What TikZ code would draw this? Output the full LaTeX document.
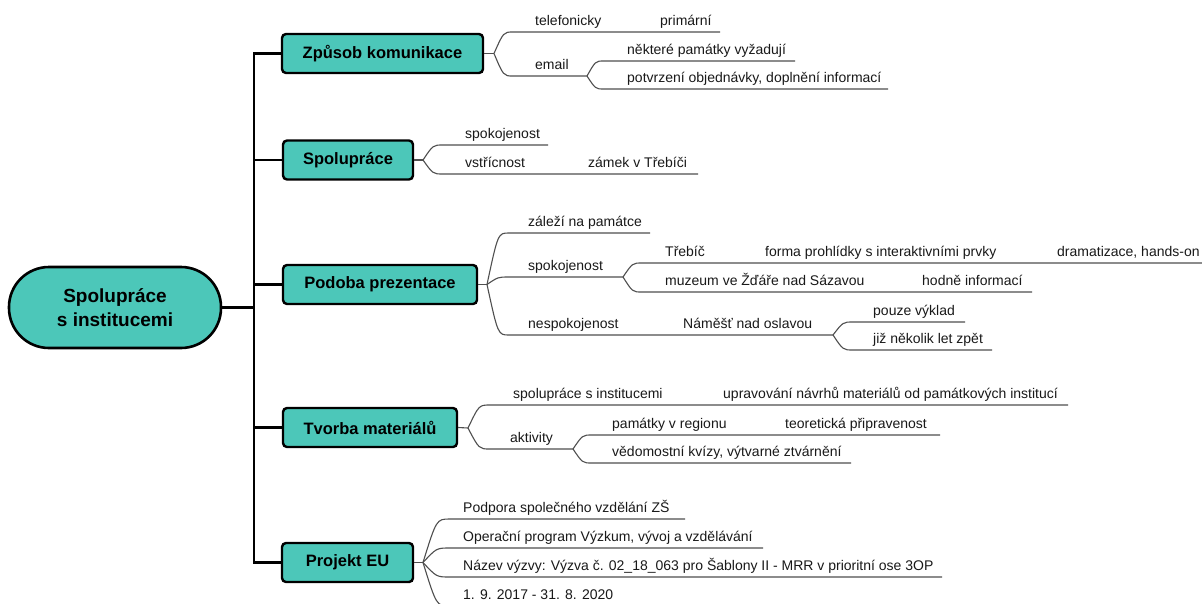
\documentclass[tikz,border=0pt]{standalone}
\usepackage{fontspec}
\setmainfont{Liberation Sans}
\usetikzlibrary{calc}
\definecolor{tealfill}{HTML}{4CC7B9}
\definecolor{linegray}{HTML}{4F4F4F}
\newcommand{\brc}[3]{\draw[subline] (#1) .. controls ($(#1 |- #2)!0.5!(#2)$) .. (#2) -- (#3);}
\tikzset{
  rootbox/.style={draw=black, line width=2.6pt, fill=tealfill, rounded corners=40pt,
    minimum width=212pt, minimum height=81pt, inner sep=0pt, align=center,
    font=\bfseries\fontsize{19}{24.5}\selectfont},
  mainbox/.style={draw=black, line width=2.4pt, fill=tealfill, rounded corners=4pt,
    minimum height=39pt, inner sep=0pt, font=\bfseries\fontsize{16.5}{19}\selectfont},
  trunk/.style={line width=2.6pt, black, line cap=rect},
  subline/.style={line width=1.1pt, linegray},
  lbl/.style={anchor=base west, inner sep=0pt, text=black!90, font=\fontsize{14}{16}\selectfont}
}
\begin{document}
\begin{tikzpicture}[x=1pt,y=-1pt]
\useasboundingbox[fill=white] (0,0) rectangle (1202,603);

% root and trunk
\node[rootbox] (root) at (115,307.5) {Spolupráce\\s institucemi};
\coordinate (tk) at (254,307.5);

\node[mainbox, minimum width=201pt] (b1) at (382.5,53.5) {Způsob komunikace};
\node[mainbox, minimum width=130pt] (b2) at (348,160) {Spolupráce};
\node[mainbox, minimum width=194pt] (b3) at (380,284.5) {Podoba prezentace};
\node[mainbox, minimum width=174pt] (b4) at (370,427.5) {Tvorba materiálů};
\node[mainbox, minimum width=131pt] (b5) at (347.5,562.5) {Projekt EU};

\draw[trunk, line cap=butt] (root.east) -- (tk);
\draw[trunk, line cap=butt, line join=miter] (b1.west) -- (b1.west -| tk) -- (b5.west -| tk) -- (b5.west);
\draw[trunk, line cap=butt] (b2.west -| tk) -- (b2.west);
\draw[trunk, line cap=butt] (b3.west -| tk) -- (b3.west);
\draw[trunk, line cap=butt] (b4.west -| tk) -- (b4.west);

% ---------- branch 1
\coordinate (f1) at (494,53.5);
\draw[subline] (b1.east) -- (f1);
\coordinate (s11) at (513,32);  \coordinate (e11) at (720,32);
\coordinate (s12) at (513,76);  \coordinate (f12) at (587,76);
\coordinate (s121) at (604,61); \coordinate (e121) at (795,61);
\coordinate (s122) at (604,89); \coordinate (e122) at (888,89);
\brc{f1}{s11}{e11}
\brc{f1}{s12}{f12}
\brc{f12}{s121}{e121}
\brc{f12}{s122}{e122}
\node[lbl] (t11) at (535,25.5) {telefonicky};
\node[lbl] (t111) at (660,25.5) {primární};
\node[lbl] (t12) at (535,69.5) {email};
\node[lbl] (t121) at (627,54.5) {některé památky vyžadují};
\node[lbl] (t122) at (627,82.5) {potvrzení objednávky, doplnění informací};

% ---------- branch 2
\coordinate (f2) at (423,160);
\draw[subline] (b2.east) -- (f2);
\coordinate (s21) at (443,145); \coordinate (e21) at (548,145);
\coordinate (s22) at (443,174); \coordinate (e22) at (698,174);
\brc{f2}{s21}{e21}
\brc{f2}{s22}{e22}
\node[lbl] (t21) at (465,138.5) {spokojenost};
\node[lbl] (t22) at (465,167.5) {vstřícnost};
\node[lbl] (t221) at (588,167.5) {zámek v Třebíči};

% ---------- branch 3
\coordinate (f3) at (487,284.5);
\draw[subline] (b3.east) -- (f3);
\coordinate (s31) at (509,233); \coordinate (e31) at (650,233);
\coordinate (s32) at (509,277); \coordinate (f32) at (623,277);
\coordinate (s321) at (642,263); \coordinate (e321) at (1203,263);
\coordinate (s322) at (642,292); \coordinate (e322) at (1032,292);
\coordinate (s33) at (509,335); \coordinate (f33) at (833,335);
\coordinate (s331) at (853,322); \coordinate (e331) at (965,322);
\coordinate (s332) at (853,350); \coordinate (e332) at (992,350);
\brc{f3}{s31}{e31}
\brc{f3}{s32}{f32}
\brc{f3}{s33}{f33}
\brc{f32}{s321}{e321}
\brc{f32}{s322}{e322}
\brc{f33}{s331}{e331}
\brc{f33}{s332}{e332}
\node[lbl] (t31) at (528,226.5) {záleží na památce};
\node[lbl] (t32) at (528,270.5) {spokojenost};
\node[lbl] (t321) at (665,256.5) {Třebíč};
\node[lbl] (t3211) at (765,256.5) {forma prohlídky s interaktivními prvky};
\node[lbl] (t3212) at (1057,256.5) {dramatizace, hands-on};
\node[lbl] (t322) at (665,285.5) {muzeum ve Žďáře nad Sázavou};
\node[lbl] (t3221) at (922,285.5) {hodně informací};
\node[lbl] (t33) at (528,328.5) {nespokojenost};
\node[lbl] (t331) at (683,328.5) {Náměšť nad oslavou};
\node[lbl] (t3311) at (873,315.5) {pouze výklad};
\node[lbl] (t3312) at (873,343.5) {již několik let zpět};

% ---------- branch 4
\coordinate (f4) at (468,428);
\draw[subline] (b4.east) -- (f4);
\coordinate (s41) at (490,405); \coordinate (e41) at (1068,405);
\coordinate (s42) at (490,449); \coordinate (f42) at (573,449);
\coordinate (s421) at (592,435); \coordinate (e421) at (940,435);
\coordinate (s422) at (592,463); \coordinate (e422) at (851,463);
\brc{f4}{s41}{e41}
\brc{f4}{s42}{f42}
\brc{f42}{s421}{e421}
\brc{f42}{s422}{e422}
\node[lbl] (t41) at (513,398.5) {spolupráce s institucemi};
\node[lbl] (t411) at (723,398.5) {upravování návrhů materiálů od památkových institucí};
\node[lbl] (t42) at (510,442.5) {aktivity};
\node[lbl] (t421) at (612,428.5) {památky v regionu};
\node[lbl] (t4211) at (785,428.5) {teoretická připravenost};
\node[lbl] (t422) at (612,456.5) {vědomostní kvízy, výtvarné ztvárnění};

% ---------- branch 5
\coordinate (f5) at (423,562.5);
\draw[subline] (b5.east) -- (f5);
\coordinate (s51) at (450,519); \coordinate (e51) at (685,519);
\coordinate (s52) at (450,548); \coordinate (e52) at (763,548);
\coordinate (s53) at (450,577); \coordinate (e53) at (942,577);
\coordinate (s54) at (450,606); \coordinate (e54) at (640,606);
\brc{f5}{s51}{e51}
\brc{f5}{s52}{e52}
\brc{f5}{s53}{e53}
\brc{f5}{s54}{e54}
\node[lbl] (t51) at (463,512.5) {Podpora společného vzdělání ZŠ};
\node[lbl] (t52) at (463,541.5) {Operační program Výzkum, vývoj a vzdělávání};
\node[lbl] (t53) at (463,570.5) {Název výzvy: Výzva č. 02\_18\_063 pro Šablony II - MRR v prioritní ose 3OP};
\node[lbl] (t54) at (463,599.5) {1. 9. 2017 - 31. 8. 2020};
\end{tikzpicture}
\end{document}
